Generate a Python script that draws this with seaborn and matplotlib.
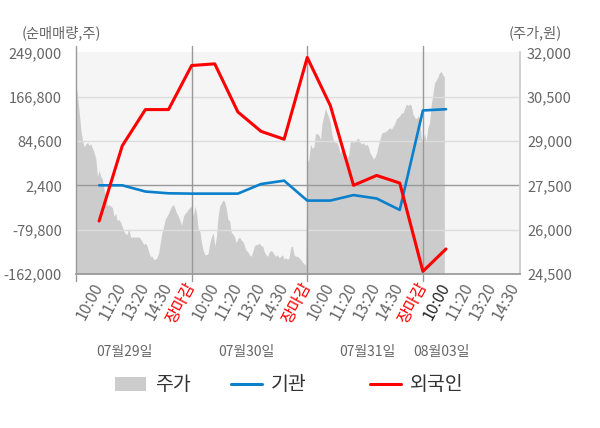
import numpy as np
import matplotlib
matplotlib.use('Agg')
import matplotlib.pyplot as plt
import seaborn as sns
from matplotlib.patches import Patch
from matplotlib.lines import Line2D

sns.set_theme(style='white')
plt.rcParams['font.family'] = ['Noto Sans CJK KR', 'DejaVu Sans']

# x축 라벨 (시간대), 날짜
time_labels = ['10:00', '11:20', '13:20', '14:30', '장마감',
               '10:00', '11:20', '13:20', '14:30', '장마감',
               '10:00', '11:20', '13:20', '14:30', '장마감',
               '10:00', '11:20', '13:20', '14:30']
day_labels = ['07월29일', '07월30일', '07월31일', '08월03일']

# 순매매량 (주)
foreign = [-63800, 75600, 142800, 142800, 224500, 227600, 138400, 102500,
           87800, 239400, 150000, 2400, 20700, 6600, -157100, -115600]
institution = [2400, 2400, -9100, -12400, -13000, -13000, -13000, 4800,
               11000, -25900, -25900, -15700, -22000, -43200, 141200, 143500]

# 주가 (원), 일자별 분봉
price_0729 = [30900, 30500, 29950, 29350, 29000, 28800, 28900, 28950, 28850, 28900,
              28750, 28600, 28400, 27800, 28000, 27800, 27700, 27350, 27150, 26800,
              26850, 26800, 26750, 26450, 26550, 26300, 26350, 26250, 26100, 25950,
              25850, 25850, 26050, 25750, 25750, 25750, 25750, 25750, 25750, 25700,
              25600, 25500, 25550, 25450, 25250, 25100, 25100, 25000, 25000, 25050,
              25200, 25550, 25900, 26100, 26350, 26450, 26550, 26700, 26800, 26850,
              26700, 26550, 26450, 26300, 26150, 26450, 26550, 26600, 26700]
price_0730 = [26800, 26450, 26800, 26550, 26000, 25950, 25550, 25300, 25150, 25150,
              25200, 25550, 25750, 25900, 25450, 25750, 26450, 26800, 26900, 27000,
              26950, 26700, 26350, 26300, 25900, 25850, 25750, 25550, 25700, 25750,
              25650, 25600, 25450, 25300, 25250, 25150, 25100, 25250, 25450, 25500,
              25500, 25550, 25450, 25450, 25250, 25150, 25100, 25250, 25300, 25250,
              25150, 25100, 25150, 25050, 25100, 25150, 25000, 25050, 25000, 25050,
              25400, 25450, 25150, 25100, 25100, 25050, 25000, 24900, 24850, 24800]
price_0731 = [28250, 28400, 28900, 28750, 28800, 29250, 29250, 29200, 29050, 29600,
              29850, 30100, 29950, 29800, 29600, 29200, 29000, 28950, 28950, 28800,
              28550, 28800, 28500, 28250, 28400, 28500, 28950, 29000, 28950, 29000,
              29050, 29100, 28950, 28900, 28950, 28850, 28900, 28800, 28600, 28500,
              28400, 28450, 28600, 28850, 29050, 29250, 29300, 29300, 29350, 29400,
              29450, 29400, 29500, 29600, 29750, 29800, 29850, 29950, 29950, 30100,
              30250, 30200, 30250, 30200, 29900, 29800, 29750, 29850, 29750, 29100]
price_0803 = [29000, 29250, 29000, 29450, 29600, 30200, 30550, 30950, 31050, 31150,
              31300, 31350, 31250, 31150]

left_ticks = [-162000, -79800, 2400, 84600, 166800, 249000]
right_ticks = [24500, 26000, 27500, 29000, 30500, 32000]

# 분봉 x 위치: 하루 = 5칸
price_x, price_y = [], []
for d, day in enumerate([price_0729, price_0730, price_0731, price_0803]):
    price_x += list(d * 5 + np.arange(len(day)) * 5 / 70)
    price_y += day

pos = np.arange(1, len(foreign) + 1)

fig = plt.figure(figsize=(6, 4.28), dpi=100)
ax = fig.add_axes([76 / 600, 1 - 274 / 428, 444 / 600, 221.7 / 428])
ax2 = ax.twinx()

# 주가 영역 (오른쪽 축)
ax2.patch.set_visible(True)
ax2.set_facecolor('#f5f5f5')
ax2.fill_between(price_x, price_y, 24500, color='#cccccc', lw=0)
ax2.set_ylim(24500, 32000)
ax2.set_yticks(right_ticks)
ax2.set_yticklabels([f'{v:,}' for v in right_ticks])
for s in ax2.spines.values():
    s.set_visible(False)
ax2.tick_params(axis='y', length=0, pad=5, labelsize=10.5, labelcolor='#666666')

# 순매매량 (왼쪽 축), 위에 그림
ax.set_zorder(ax2.get_zorder() + 1)
ax.patch.set_visible(False)
for v in left_ticks[1:-1]:
    ax.axhline(v, color='#999999' if v == 2400 else '#dcdcdc', lw=1, zorder=1)
for xv in [0, 5, 10, 15]:
    ax.axvline(xv, ymin=-0.03, ymax=1.03, color='#999999', lw=1, clip_on=False, zorder=1)

sns.lineplot(x=pos, y=institution, ax=ax, color='#0a80cc', linewidth=1.9, zorder=3)
sns.lineplot(x=pos, y=foreign, ax=ax, color='#ff0000', linewidth=2.2, zorder=4)

ax.set_xlim(0, 19.2)
ax.set_ylim(-162000, 249000)
ax.set_yticks(left_ticks)
ax.set_yticklabels([f'{v:,}' for v in left_ticks])
ax.set_xticks(np.arange(1, 20))
ax.set_xticklabels(time_labels, rotation=62, ha='right', va='center', rotation_mode='anchor')
ax.tick_params(axis='y', length=0, pad=10, labelsize=10.5, labelcolor='#666666')
ax.tick_params(axis='x', length=0, pad=7, labelsize=11.5)
for i, t in enumerate(ax.get_xticklabels()):
    if time_labels[i] == '장마감':
        t.set_color('#ff0000')
    elif i == 15:
        t.set_color('#222222')
    else:
        t.set_color('#666666')
ax.spines['top'].set_visible(False)
ax.spines['left'].set_visible(False)
ax.spines['bottom'].set_color('#999999')
ax.spines['right'].set_color('#cccccc')
ax.set_xlabel('')
ax.set_ylabel('')

# 날짜
for xd, lab in zip([2.1, 7.36, 12.6, 15.8], day_labels):
    ax.text(xd, -0.352, lab, transform=ax.get_xaxis_transform(), ha='center', va='center',
            fontsize=10, color='#666666')

# 축 제목
fig.text(22 / 600, 1 - 33 / 428, '(순매매량,주)', ha='left', va='center', fontsize=10.3, color='#666666')
fig.text(562 / 600, 1 - 33 / 428, '(주가,원)', ha='right', va='center', fontsize=10.3, color='#666666')

# 범례
entries = [(Patch(facecolor='#cccccc', edgecolor='none'), '주가', 115),
           (Line2D([], [], color='#0a80cc', lw=2.2), '기관', 231),
           (Line2D([], [], color='#ff0000', lw=2.2), '외국인', 370)]
for h, lab, xs in entries:
    fig.legend([h], [lab], loc='center left', bbox_to_anchor=(xs / 600, 1 - 385 / 428),
               frameon=False, fontsize=14, handlelength=1.6, handleheight=0.7,
               handletextpad=0.45, borderpad=0, borderaxespad=0, labelcolor='#333333')

fig.savefig('out.png', dpi=100)
